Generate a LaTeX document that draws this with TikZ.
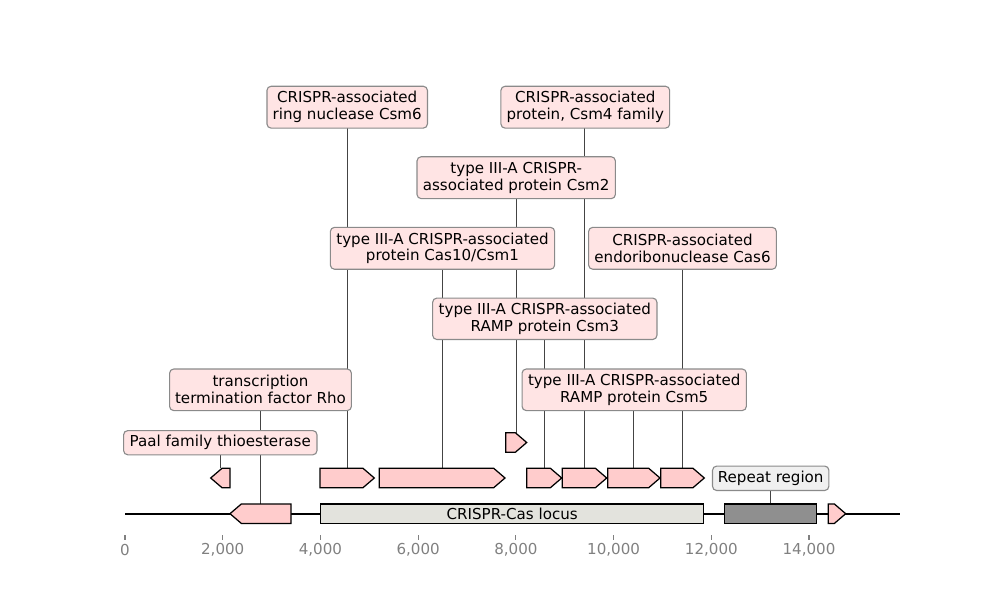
\documentclass[tikz,border=0pt]{standalone}
\usepackage{fontspec}
\setmainfont{DejaVu Sans}
\usetikzlibrary{backgrounds}
\definecolor{featfill}{HTML}{FFCCCC}
\definecolor{lblfill}{HTML}{FFE4E4}
\definecolor{lbledge}{HTML}{8A8A8A}
\definecolor{locusfill}{HTML}{E3E3DD}
\definecolor{repfill}{HTML}{8F8F8F}
\definecolor{replbl}{HTML}{F0F0F0}
\definecolor{axgray}{HTML}{808080}
\definecolor{linkcol}{HTML}{444444}
\newcommand\arrR[4]{% start,end,ymid,name
  \draw[feat] (#1,#3-9.7) -- (#2-11.3,#3-9.7) -- (#2,#3) -- (#2-11.3,#3+9.7) -- (#1,#3+9.7) -- cycle;
  \coordinate (#4) at ({(#1+#2)/2},#3-9.7);}
\newcommand\arrL[4]{% start,end,ymid,name
  \draw[feat] (#2,#3-9.7) -- (#1+11.3,#3-9.7) -- (#1,#3) -- (#1+11.3,#3+9.7) -- (#2,#3+9.7) -- cycle;
  \coordinate (#4) at ({(#1+#2)/2},#3-9.7);}
\tikzset{
  feat/.style={draw=black, fill=featfill, line width=0.9pt, line join=miter},
  lbl/.style 2 args={draw=lbledge, fill=lblfill, rounded corners=3pt, line width=0.8pt,
     align=center, inner sep=0pt, minimum width=#1*0.72pt, minimum height=#2*0.72pt,
     font=\fontsize{10.9}{12.2}\selectfont},
  link/.style={draw=linkcol, line width=0.6pt},
  tickmark/.style={draw=axgray, line width=0.8pt},
  ticklbl/.style={text=axgray, font=\fontsize{10.9}{12.2}\selectfont, inner sep=0pt},
  boxfeat/.style 2 args={draw=black, line width=0.9pt, fill=#2, inner sep=0pt,
     minimum width=#1*0.72pt, minimum height=19.4*0.72pt, font=\fontsize{10.9}{12.2}\selectfont}
}
\begin{document}
\begin{tikzpicture}[x=0.01in,y=-0.01in]
\useasboundingbox (0,0) rectangle (1000,600);
% baseline
\draw[line width=1.5pt] (125,513.7) -- (900,513.7);
% main track features
\arrL{230}{291}{513.7}{rhotop}
\node[boxfeat={384.3}{locusfill}] (locus) at (512.2,513.7) {CRISPR-Cas locus};
\node[boxfeat={92.4}{repfill}] (rep) at (770.5,513.7) {};
\coordinate (reptop) at (770.5,504);
\arrR{828.3}{845.7}{513.7}{lasttop}
% track 2
\arrL{210.7}{230}{478}{paaltop}
\arrR{320}{374.3}{478}{csm6top}
\arrR{379.3}{505}{478}{cas10top}
\arrR{526.7}{561.7}{478}{csm3top}
\arrR{562.3}{606.7}{478}{csm4top}
\arrR{607.7}{660}{478}{csm5top}
\arrR{660.7}{704.3}{478}{cas6top}
% track 3
\arrR{505.7}{526.7}{442.5}{csm2top}
% labels
\node[lbl={194}{24.3}] (paal) at (220.3,442.7) {Paal family thioesterase};
\node[lbl={182.4}{41.7}] (rho) at (260.5,389.8) {transcription\\termination factor Rho};
\node[lbl={161}{42}] (csm6) at (347.2,107.2) {CRISPR-associated\\ring nuclease Csm6};
\node[lbl={169.3}{42}] (csm4) at (585.3,107.2) {CRISPR-associated\\protein, Csm4 family};
\node[lbl={199}{42}] (csm2) at (516.2,177.7) {type III-A CRISPR-\\associated protein Csm2};
\node[lbl={225}{42}] (cas10) at (442.5,248.3) {type III-A CRISPR-associated\\protein Cas10/Csm1};
\node[lbl={188.4}{42}] (cas6) at (682.5,248.3) {CRISPR-associated\\endoribonuclease Cas6};
\node[lbl={225}{41.5}] (csm3) at (544.8,318.8) {type III-A CRISPR-associated\\RAMP protein Csm3};
\node[lbl={225}{41.7}] (csm5) at (634.2,389.8) {type III-A CRISPR-associated\\RAMP protein Csm5};
\node[lbl={116.7}{24.5}, fill=replbl] (replab) at (770.7,478.3) {Repeat region};
% links
\begin{pgfonlayer}{background}
\foreach \f in {paal,rho,csm6,csm4,csm2,cas10,cas6,csm3,csm5}{
  \draw[link] (\f top) -- (\f top |- \f.center);
}
\draw[link] (reptop) -- (reptop |- replab.center);
\end{pgfonlayer}
% axis
\foreach \v/\t in {0/0,2000/{2,000},4000/{4,000},6000/{6,000},8000/{8,000},10000/{10,000},12000/{12,000},14000/{14,000}}{
  \draw[tickmark] ({125+0.048857*\v},535) -- ({125+0.048857*\v},539.5);
  \node[ticklbl] at ({125+0.048857*\v},550) {\t};
}
\end{tikzpicture}
\end{document}
